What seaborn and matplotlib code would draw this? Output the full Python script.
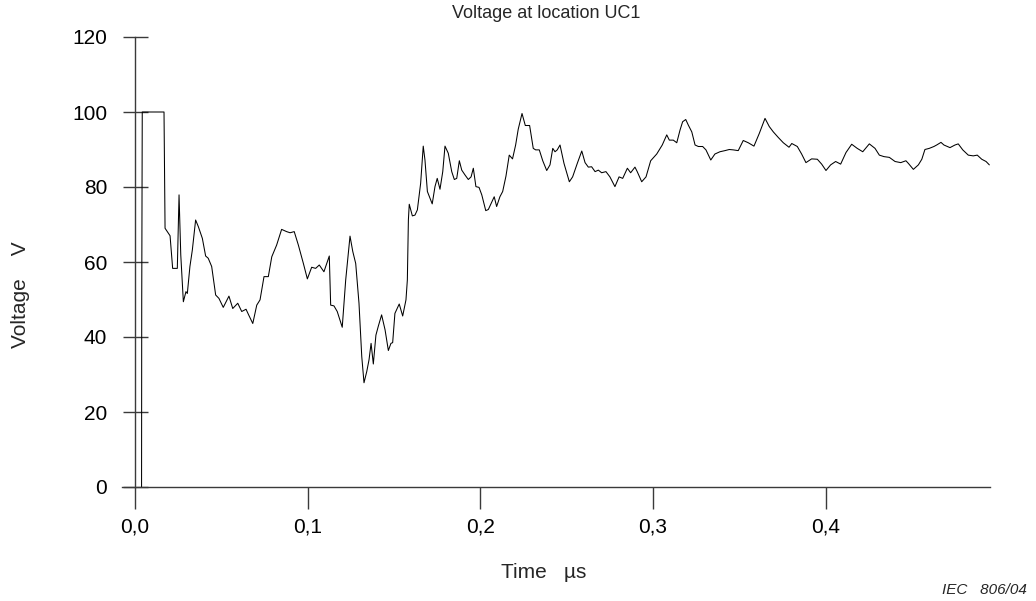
import matplotlib
matplotlib.use("Agg")
import matplotlib.pyplot as plt
import seaborn as sns
import pandas as pd

# Measured voltage trace at location UC1 (time in microseconds, voltage in volts)
time_us = [
    0.0038, 0.0039, 0.0042, 0.0168, 0.0174, 0.0203, 0.0218, 0.0245, 0.0255, 0.0265,
    0.0280, 0.0295, 0.0303, 0.0318, 0.0332, 0.0351, 0.0367, 0.0390, 0.0409, 0.0424,
    0.0444, 0.0467, 0.0486, 0.0511, 0.0544, 0.0566, 0.0595, 0.0618, 0.0643, 0.0658,
    0.0682, 0.0705, 0.0724, 0.0747, 0.0772, 0.0792, 0.0820, 0.0849, 0.0878, 0.0898,
    0.0922, 0.0946, 0.0975, 0.0998, 0.1023, 0.1046, 0.1067, 0.1094, 0.1125, 0.1133,
    0.1152, 0.1171, 0.1200, 0.1220, 0.1245, 0.1261, 0.1278, 0.1297, 0.1313, 0.1326,
    0.1342, 0.1355, 0.1367, 0.1380, 0.1395, 0.1409, 0.1428, 0.1448, 0.1467, 0.1482,
    0.1492, 0.1505, 0.1530, 0.1550, 0.1569, 0.1577, 0.1583, 0.1588, 0.1606, 0.1621,
    0.1635, 0.1654, 0.1669, 0.1679, 0.1693, 0.1708, 0.1721, 0.1737, 0.1750, 0.1766,
    0.1782, 0.1795, 0.1814, 0.1834, 0.1849, 0.1863, 0.1878, 0.1892, 0.1911, 0.1930,
    0.1946, 0.1959, 0.1974, 0.1992, 0.2008, 0.2031, 0.2046, 0.2069, 0.2080, 0.2094,
    0.2113, 0.2129, 0.2148, 0.2167, 0.2186, 0.2204, 0.2219, 0.2241, 0.2260, 0.2285,
    0.2306, 0.2320, 0.2341, 0.2361, 0.2384, 0.2403, 0.2419, 0.2432, 0.2445, 0.2461,
    0.2484, 0.2515, 0.2534, 0.2561, 0.2587, 0.2606, 0.2625, 0.2644, 0.2664, 0.2683,
    0.2702, 0.2727, 0.2750, 0.2779, 0.2803, 0.2824, 0.2851, 0.2870, 0.2895, 0.2908,
    0.2934, 0.2959, 0.2986, 0.3021, 0.3053, 0.3079, 0.3094, 0.3117, 0.3137, 0.3156,
    0.3171, 0.3189, 0.3204, 0.3224, 0.3243, 0.3262, 0.3287, 0.3306, 0.3334, 0.3358,
    0.3387, 0.3416, 0.3441, 0.3464, 0.3493, 0.3522, 0.3551, 0.3584, 0.3615, 0.3648,
    0.3673, 0.3696, 0.3725, 0.3754, 0.3787, 0.3803, 0.3835, 0.3860, 0.3885, 0.3918,
    0.3951, 0.3976, 0.4001, 0.4028, 0.4057, 0.4086, 0.4117, 0.4150, 0.4182, 0.4214,
    0.4252, 0.4285, 0.4310, 0.4337, 0.4368, 0.4401, 0.4434, 0.4464, 0.4478, 0.4507,
    0.4536, 0.4556, 0.4574, 0.4599, 0.4626, 0.4642, 0.4667, 0.4684, 0.4719, 0.4748,
    0.4767, 0.4793, 0.4825, 0.4854, 0.4877, 0.4903, 0.4928, 0.4947,
]
voltage_v = [
    0.0, 50.0, 100.0, 100.0, 69.0, 67.0, 58.3, 58.3, 77.9, 61.9,
    49.4, 52.1, 51.6, 58.8, 63.2, 71.2, 69.4, 66.3, 61.6, 61.0,
    58.8, 51.2, 50.3, 47.9, 50.9, 47.6, 49.0, 46.8, 47.4, 45.9,
    43.6, 48.5, 49.9, 56.1, 56.1, 61.4, 64.5, 68.7, 68.1, 67.8,
    68.1, 64.5, 59.6, 55.5, 58.6, 58.3, 59.2, 57.4, 61.6, 48.5,
    48.3, 46.8, 42.6, 55.2, 66.9, 62.8, 59.6, 49.0, 34.8, 27.8,
    30.8, 33.9, 38.3, 32.8, 40.5, 42.9, 45.9, 41.9, 36.4, 38.3,
    38.5, 46.3, 48.8, 45.6, 49.9, 55.2, 71.2, 75.4, 72.3, 72.5,
    73.9, 81.0, 90.9, 87.2, 78.8, 77.0, 75.5, 80.1, 82.3, 79.4,
    84.1, 90.9, 89.0, 84.1, 82.0, 82.3, 87.0, 84.5, 83.2, 82.0,
    82.7, 85.0, 80.1, 79.9, 77.9, 73.7, 74.0, 76.3, 77.4, 74.8,
    77.4, 78.8, 82.9, 88.5, 87.5, 91.2, 95.4, 99.6, 96.4, 96.4,
    90.3, 89.9, 89.9, 87.0, 84.4, 85.9, 90.3, 89.4, 89.9, 91.2,
    86.3, 81.4, 82.7, 86.3, 89.6, 86.5, 85.3, 85.4, 84.1, 84.5,
    83.8, 84.1, 82.7, 80.1, 82.7, 82.3, 85.0, 83.8, 85.3, 84.1,
    81.4, 82.7, 87.0, 88.8, 91.2, 93.9, 92.5, 92.5, 91.8, 95.2,
    97.4, 98.0, 96.5, 94.7, 91.2, 90.8, 90.8, 89.9, 87.2, 88.8,
    89.4, 89.7, 90.0, 89.9, 89.7, 92.4, 91.8, 90.9, 94.3, 98.3,
    96.1, 94.7, 93.2, 91.8, 90.6, 91.6, 90.8, 88.8, 86.5, 87.5,
    87.4, 86.1, 84.4, 85.9, 86.8, 86.1, 89.2, 91.4, 90.3, 89.4,
    91.5, 90.3, 88.5, 88.1, 87.9, 86.8, 86.5, 87.0, 86.3, 84.7,
    85.9, 87.4, 90.0, 90.3, 90.8, 91.2, 91.9, 91.2, 90.5, 91.2,
    91.5, 89.9, 88.5, 88.3, 88.5, 87.4, 86.8, 85.9,
]

x_ticks = [0.0, 0.1, 0.2, 0.3, 0.4]
x_tick_labels = ["0,0", "0,1", "0,2", "0,3", "0,4"]
y_ticks = [0, 20, 40, 60, 80, 100, 120]
y_tick_labels = ["0", "20", "40", "60", "80", "100", "120"]

sns.set_style("white")
plt.rcParams["font.family"] = ["Liberation Sans", "DejaVu Sans"]

W, H = 1036, 601
fig = plt.figure(figsize=(W / 100, H / 100), dpi=100)
ax = fig.add_axes([122 / W, 114 / H, 868 / W, 450 / H])

df = pd.DataFrame({"t": time_us, "v": voltage_v})
sns.lineplot(data=df, x="t", y="v", ax=ax, color="black", linewidth=0.75,
             estimator=None, sort=False)

ax.set_xlim(-13 / 1727, 855 / 1727)
ax.set_ylim(0, 120)

axis_col = "#3a3a3a"
for side in ("top", "right"):
    ax.spines[side].set_visible(False)
ax.spines["left"].set_position(("data", 0))
for side in ("left", "bottom"):
    ax.spines[side].set_color(axis_col)
    ax.spines[side].set_linewidth(1.0)

ax.set_xticks(x_ticks)
ax.set_xticklabels(x_tick_labels)
ax.set_yticks(y_ticks)
ax.set_yticklabels(y_tick_labels)

# x ticks cross the axis: longer below, shorter above
ax.xaxis.remove_overlapping_locs = False
ax.set_xticks(x_ticks, minor=True)
ax.tick_params(axis="x", which="major", direction="out", length=15.8, width=1.0,
               color=axis_col, pad=6, labelsize=15, labelcolor="black")
ax.tick_params(axis="x", which="minor", direction="in", length=11.5, width=1.0,
               color=axis_col)
ax.tick_params(axis="y", which="major", direction="inout", length=18, width=1.0,
               color=axis_col, pad=11, labelsize=15, labelcolor="black")
ax.tick_params(left=True, bottom=True)
ax.grid(False)

ax.set_xlabel("Time   µs", fontsize=15)
ax.xaxis.label.set_va("center")
ax.xaxis.set_label_coords((543.5 - 122) / 868, (487 - 573) / 450)
ax.set_ylabel("Voltage    V", fontsize=15)
ax.yaxis.label.set_va("center")
ax.yaxis.set_label_coords((21 - 122) / 868, (487 - 295) / 450)

fig.text(546 / W, 1 - 13 / H, "Voltage at location UC1", ha="center", va="center",
         fontsize=13)
fig.text(1027 / W, 1 - 590 / H, "IEC   806/04", ha="right", va="center",
         style="italic", fontsize=11)

fig.savefig("out.png", dpi=100, facecolor="white")
